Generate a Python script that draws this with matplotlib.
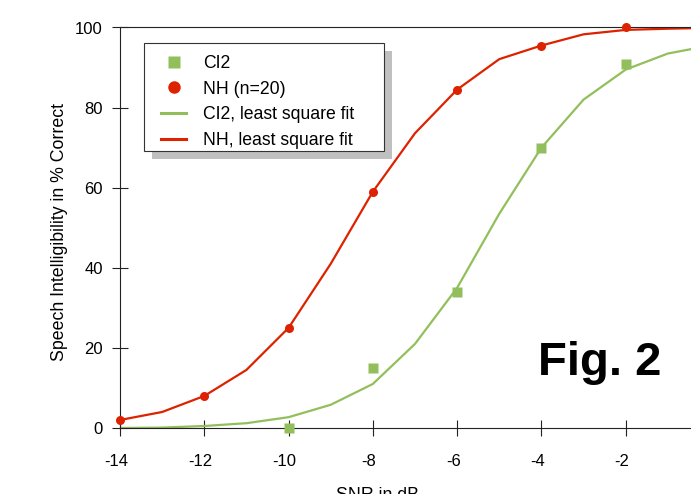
import matplotlib

matplotlib.use("Agg")
import matplotlib.pyplot as plt
from matplotlib.lines import Line2D
from matplotlib.patches import Rectangle
from matplotlib.transforms import ScaledTranslation

# measured points
snr_ci2 = [-10, -8, -6, -4, -2]
ci2 = [0, 15, 34, 70, 91]
snr_nh = [-14, -12, -10, -8, -6, -4, -2]
nh = [2, 8, 25, 59, 84.5, 95.5, 100]

# least square fits, read at 1 dB steps
snr_fit = [-14, -13, -12, -11, -10, -9, -8, -7, -6, -5, -4, -3, -2, -1, 0]
ci2_fit = [0, 0.1, 0.5, 1.2, 2.7, 5.8, 11, 21, 35, 53.5, 70, 82, 89.5, 93.5, 95.5]
nh_fit = [2, 4, 8, 14.5, 25, 41, 59, 73.6, 84.5, 92.1, 95.5, 98.3, 99.4, 99.7, 99.9]

x_ticks = [-14, -12, -10, -8, -6, -4, -2]
y_ticks = [0, 20, 40, 60, 80, 100]

RED = "#DD2200"
GREEN = "#92BF5B"

plt.rcParams["font.family"] = ["Liberation Sans", "DejaVu Sans"]
plt.rcParams["axes.unicode_minus"] = False

W, H = 691, 494
fig = plt.figure(figsize=(W / 100, H / 100), dpi=100)
# axes runs past the right edge of the picture (x = 0 is cut off)
ax = fig.add_axes([120 / W, 66 / H, 590 / W, 400.5 / H])

ax.plot(snr_fit, ci2_fit, color=GREEN, lw=1.6, zorder=2)
ax.plot(snr_fit, nh_fit, color=RED, lw=1.6, zorder=2)
ax.plot(snr_ci2, ci2, ls="none", marker="s", ms=6.5, color=GREEN, mec="none", zorder=3, clip_on=False)
ax.plot(snr_nh, nh, ls="none", marker="o", ms=6.5, color=RED, mec="none", zorder=3, clip_on=False)

ax.set_xlim(-14, 0)
ax.set_ylim(0, 100)
ax.set_xticks(x_ticks)
ax.set_yticks(y_ticks)
ax.spines["right"].set_visible(False)
for s in ("left", "bottom", "top"):
    ax.spines[s].set_linewidth(0.8)
    ax.spines[s].set_color("#222222")
ax.tick_params(direction="inout", length=11, width=0.8, color="#222222", labelsize=12)
ax.tick_params(axis="x", pad=13)
ax.tick_params(axis="y", pad=7)
for lab in ax.get_xticklabels():
    lab.set_transform(lab.get_transform() + ScaledTranslation(-4 / 100, 0, fig.dpi_scale_trans))

ax.set_xlabel("SNR in dB", fontsize=12.8)
ax.xaxis.set_label_coords((377 - 120) / 590, -59 / 400.5)
ax.set_ylabel("Speech Intelligibility in % Correct", fontsize=12.8)
ax.yaxis.set_label_coords((68 - 120) / 590, 0.49)

# legend box drawn by hand: frame (144,43)-(384,151) px with an offset grey shadow
box = dict(x0=144, y0=43, x1=384, y1=151)
bw, bh = (box["x1"] - box["x0"]) / W, (box["y1"] - box["y0"]) / H
bx, by = box["x0"] / W, 1 - box["y1"] / H
ax.add_patch(Rectangle((bx + 8 / W, by - 8 / H), bw, bh, transform=fig.transFigure,
                       facecolor="#C0C0C0", edgecolor="none", zorder=4.8, clip_on=False))
ax.add_patch(Rectangle((bx, by), bw, bh, transform=fig.transFigure, facecolor="white",
                       edgecolor="#333333", lw=0.8, zorder=4.9, clip_on=False))

handles = [
    Line2D([], [], ls="none", marker="s", ms=9, color=GREEN, mec="none"),
    Line2D([], [], ls="none", marker="o", ms=9, color=RED, mec="none"),
    Line2D([], [], color=GREEN, lw=2.2),
    Line2D([], [], color=RED, lw=2.2),
]
labels = ["CI2", "NH (n=20)", "CI2, least square fit", "NH, least square fit"]
leg = ax.legend(
    handles, labels, loc="upper left",
    bbox_to_anchor=(161 / W, 1 - 55 / H), bbox_transform=fig.transFigure,
    fontsize=12.7, frameon=False,
    handlelength=1.42, handletextpad=0.96, labelspacing=0.49, borderpad=0,
    borderaxespad=0,
)
leg.set_zorder(5)

fig.text(600 / W, 1 - 375 / H, "Fig. 2", fontsize=34, fontweight="bold",
         ha="center", va="baseline")

fig.savefig("out.png", dpi=100)
